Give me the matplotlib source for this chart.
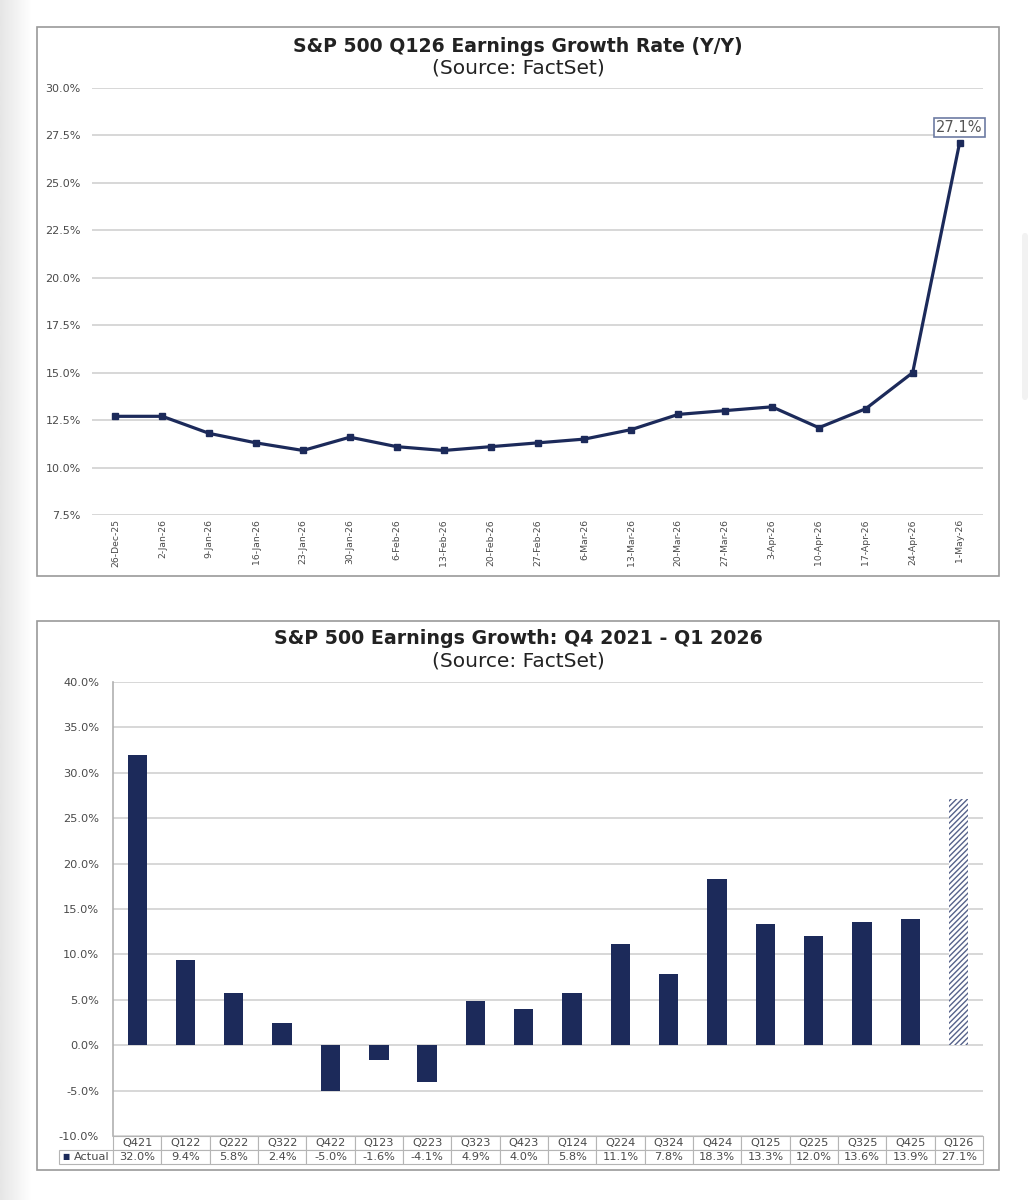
import numpy as np
import matplotlib
matplotlib.use("Agg")
import matplotlib.pyplot as plt
from matplotlib.patches import Rectangle, FancyBboxPatch

plt.rcParams['font.family'] = ['DejaVu Sans']

# weekly estimates for Q1 2026 growth rate
weeks = ['26-Dec-25', '2-Jan-26', '9-Jan-26', '16-Jan-26', '23-Jan-26', '30-Jan-26',
         '6-Feb-26', '13-Feb-26', '20-Feb-26', '27-Feb-26', '6-Mar-26', '13-Mar-26',
         '20-Mar-26', '27-Mar-26', '3-Apr-26', '10-Apr-26', '17-Apr-26', '24-Apr-26',
         '1-May-26']
weekly_growth = [12.7, 12.7, 11.8, 11.3, 10.9, 11.6, 11.1, 10.9, 11.1, 11.3,
                 11.5, 12.0, 12.8, 13.0, 13.2, 12.1, 13.1, 15.0, 27.1]

# quarterly actual growth
quarters = ['Q421', 'Q122', 'Q222', 'Q322', 'Q422', 'Q123', 'Q223', 'Q323', 'Q423',
            'Q124', 'Q224', 'Q324', 'Q424', 'Q125', 'Q225', 'Q325', 'Q425', 'Q126']
actual = [32.0, 9.4, 5.8, 2.4, -5.0, -1.6, -4.1, 4.9, 4.0,
          5.8, 11.1, 7.8, 18.3, 13.3, 12.0, 13.6, 13.9, 27.1]

navy = '#1c2a5a'
grid_c = '#d4d4d4'
txt_c = '#4a4a4a'
W, H = 1036, 1200

fig = plt.figure(figsize=(W / 100, H / 100), dpi=100)

# soft gray fade on the left page edge
bg = fig.add_axes([0, 0, 32 / W, 1])
bg.imshow(np.linspace(0.9, 1.0, 50).reshape(1, -1), cmap='gray', vmin=0, vmax=1,
          aspect='auto', extent=[0, 1, 0, 1])
bg.axis('off')
fig.add_artist(FancyBboxPatch((1022 / W, 1 - 400 / H), 6 / W, 167 / H,
                              boxstyle='round,pad=0,rounding_size=0.003',
                              transform=fig.transFigure, fc='#f2f2f2', ec='none'))

# panel frames
for top, bot in [(27, 576), (621, 1170)]:
    fig.add_artist(Rectangle((37 / W, 1 - bot / H), (999 - 37) / W, (bot - top) / H,
                             transform=fig.transFigure, fill=False,
                             ec='#9a9a9a', lw=1.2))

# ---- top chart: weekly line ----
ax1 = fig.add_axes([92 / W, 1 - 515 / H, (983 - 92) / W, (515 - 88) / H])
x = np.arange(len(weeks))
ax1.plot(x, weekly_growth, color=navy, lw=2.3, marker='s', ms=4.5, zorder=3)
ax1.set_xlim(-0.5, len(weeks) - 0.5)
ax1.set_ylim(7.5, 30)
ax1.set_yticks(np.arange(7.5, 30.1, 2.5))
ax1.set_yticklabels([f'{v:.1f}%' for v in np.arange(7.5, 30.1, 2.5)])
ax1.set_xticks(x)
ax1.set_xticklabels(weeks, rotation=90)
ax1.grid(axis='y', color=grid_c, lw=1.3)
ax1.set_axisbelow(True)
for s in ax1.spines.values():
    s.set_visible(False)
ax1.tick_params(axis='y', length=0, pad=8, labelsize=8, labelcolor=txt_c)
ax1.tick_params(axis='x', length=0, pad=3, labelsize=6.7, labelcolor=txt_c)
ax1.annotate(f'{weekly_growth[-1]:.1f}%', xy=(x[-1], weekly_growth[-1]),
             xytext=(0, 6), textcoords='offset points', ha='center', va='bottom',
             fontsize=10.5, color='#555555',
             bbox=dict(boxstyle='square,pad=0.15', fc='white', ec='#6d7ca3', lw=1.2))
fig.text(0.5, 1 - 46 / H, 'S&P 500 Q126 Earnings Growth Rate (Y/Y)', ha='center',
         va='center', fontsize=13.6, fontweight='bold', color='#222222')
fig.text(0.5, 1 - 68 / H, '(Source: FactSet)', ha='center', va='center',
         fontsize=14.5, color='#222222')

# ---- bottom chart: quarterly bars with data table ----
ax2 = fig.add_axes([113 / W, 1 - 1136 / H, (983 - 113) / W, (1136 - 682) / H])
q = np.arange(len(quarters))
bars = ax2.bar(q, actual, width=0.4, color=navy, zorder=3)
bars[-1].set_facecolor('white')
bars[-1].set_edgecolor('#56628a')
bars[-1].set_hatch('//////')
bars[-1].set_linewidth(0)
ax2.set_xlim(-0.5, len(quarters) - 0.5)
ax2.set_ylim(-10, 40)
ax2.set_yticks(np.arange(-10, 41, 5))
ax2.set_yticklabels([f'{v:.1f}%' for v in np.arange(-10, 41, 5)])
ax2.set_xticks([])
ax2.grid(axis='y', color=grid_c, lw=1.3)
ax2.set_axisbelow(True)
for s in ['top', 'right', 'bottom']:
    ax2.spines[s].set_visible(False)
ax2.spines['left'].set_color('#b0b0b0')
ax2.spines['left'].set_linewidth(1.2)
ax2.tick_params(axis='y', length=0, pad=10, labelsize=8.2, labelcolor=txt_c)

rw = 54 / 870
colw = 1 / len(quarters)
tab = ax2.table(cellText=[[f'{v:.1f}%' for v in actual]], colLabels=quarters,
                colWidths=[colw] * len(quarters), cellLoc='center',
                bbox=[0, -28 / 454, 1, 28 / 454])
tab.add_cell(1, -1, width=rw, height=tab[(1, 0)].get_height(),
             text='Actual', loc='right')
tab.auto_set_font_size(False)
tab.set_fontsize(8.2)
for cell in tab.get_celld().values():
    cell.set_edgecolor('#b5b5b5')
    cell.set_linewidth(0.8)
    cell.get_text().set_color(txt_c)
tab[(1, -1)].PAD = 0.06
ax2.text(-rw + 0.004, -21 / 454, '■', transform=ax2.transAxes, ha='left',
         va='center', fontsize=5.5, color=navy)

fig.text(0.5, 1 - 638 / H, 'S&P 500 Earnings Growth: Q4 2021 - Q1 2026', ha='center',
         va='center', fontsize=13.7, fontweight='bold', color='#222222')
fig.text(0.5, 1 - 661 / H, '(Source: FactSet)', ha='center', va='center',
         fontsize=14.5, color='#222222')

fig.savefig('out.png', dpi=100)
